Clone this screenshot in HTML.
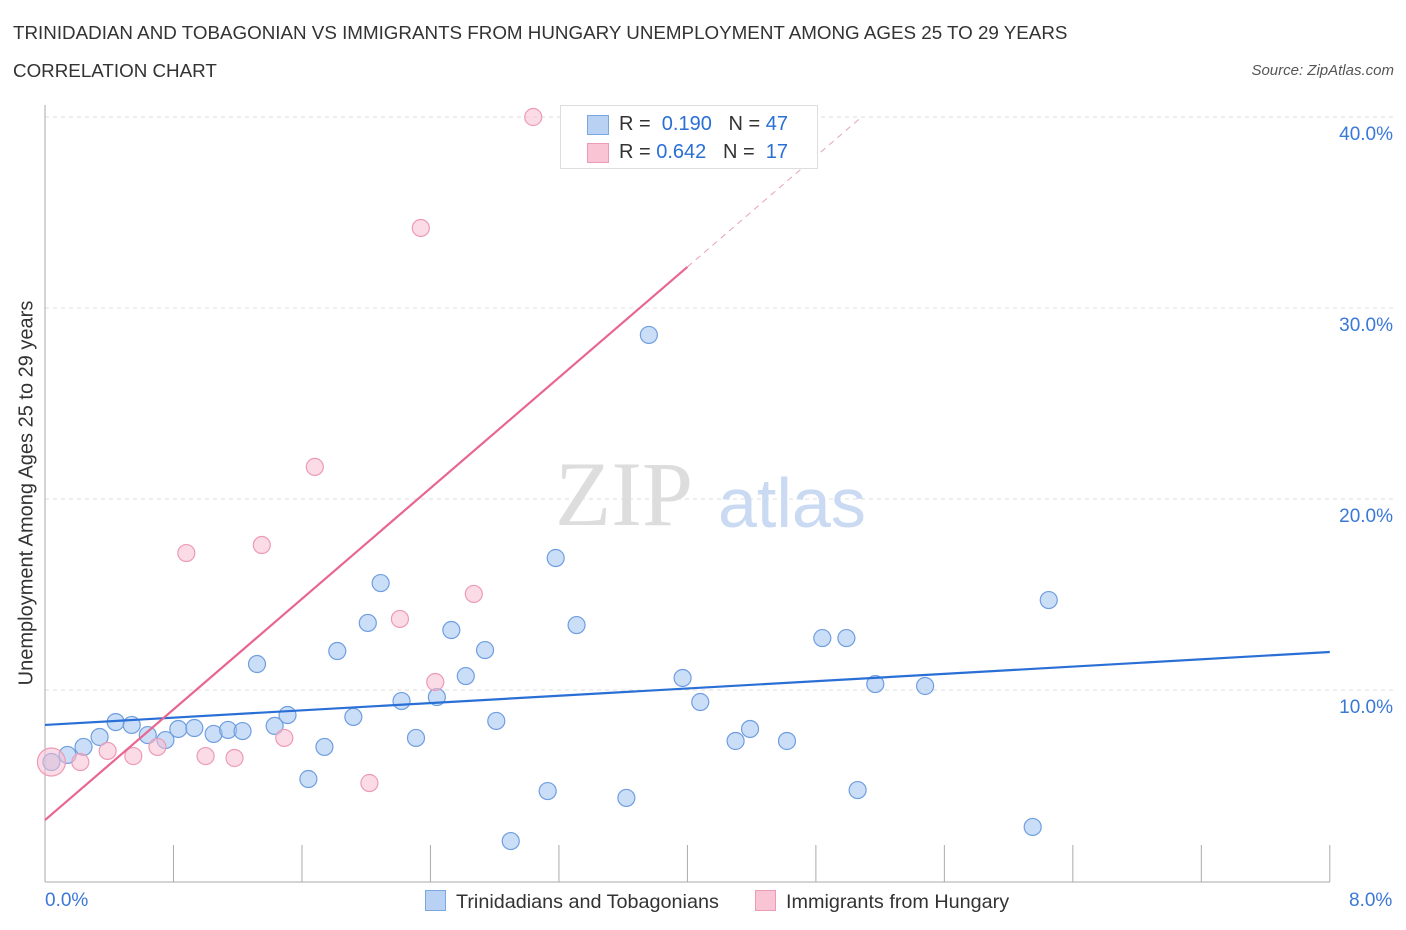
<!DOCTYPE html>
<html><head><meta charset="utf-8"><style>
body{margin:0;background:#fff;font-family:"Liberation Sans",sans-serif;}
.t{position:absolute;color:#333;}
</style></head><body>
<div style="position:relative;width:1406px;height:930px;overflow:hidden">
<div class="t" style="left:13px;top:22px;font-size:18.8px">TRINIDADIAN AND TOBAGONIAN VS IMMIGRANTS FROM HUNGARY UNEMPLOYMENT AMONG AGES 25 TO 29 YEARS</div>
<div class="t" style="left:13px;top:60px;font-size:18.8px">CORRELATION CHART</div>
<div class="t" style="right:12px;top:62px;font-size:15px;font-style:italic;color:#555">Source: ZipAtlas.com</div>
<svg id="c" width="1406" height="930" style="position:absolute;left:0;top:0"></svg>
</div>
<script>
const yTicks=[10,20,30,40];
const yTickLabels=["10.0%","20.0%","30.0%","40.0%"];
const blueX=[0.04,0.14,0.24,0.34,0.44,0.54,0.64,0.75,0.83,0.93,1.05,1.14,1.23,1.32,1.43,1.51,1.64,1.74,1.82,1.92,2.01,2.09,2.22,2.31,2.44,2.53,2.62,2.74,2.81,2.90,3.13,3.18,3.31,3.62,3.76,3.97,4.08,4.30,4.39,4.62,4.84,4.99,5.06,5.17,5.48,6.15,6.25];
const blueY=[6.23,6.60,7.02,7.54,8.32,8.17,7.64,7.38,7.96,8.01,7.70,7.91,7.85,11.36,8.12,8.69,5.34,7.02,12.04,8.59,13.51,15.60,9.42,7.49,9.63,13.14,10.73,12.09,8.38,2.09,4.71,16.91,13.40,4.35,28.59,10.63,9.37,7.33,7.96,7.33,12.72,12.72,4.76,10.31,10.21,2.83,14.71];
const pinkX=[0.04,0.22,0.39,0.55,0.70,0.88,1.00,1.18,1.35,1.49,1.68,2.02,2.21,2.34,2.43,2.67,3.04];
const pinkY=[6.23,6.23,6.81,6.54,7.02,17.17,6.54,6.44,17.59,7.49,21.68,5.13,13.72,34.19,10.42,15.03,40.0];
const blueLine=[8.17,11.99];
const pinkLine=[3.19,7.24];
const X=v=>45+v*160.6, Y=v=>881-v*19.1;
const s=document.getElementById('c');const NS='http://www.w3.org/2000/svg';
function mk(t,a,p){const e=document.createElementNS(NS,t);for(const k in a)e.setAttribute(k,a[k]);(p||s).appendChild(e);return e;}
yTicks.forEach((v,i)=>{const g=mk('line',{x1:45,x2:1395,y1:Y(v),y2:Y(v),stroke:'#ddd','stroke-dasharray':'4,4'});


const t=mk('text',{x:1393,y:Y(v)+23,'text-anchor':'end','font-size':19,fill:'#3a78d8','font-family':'Liberation Sans'});t.textContent=yTickLabels[i];

});
const ax=mk('line',{x1:45,x2:1330,y1:882,y2:882,stroke:'#aaa'});
const ay=mk('line',{x1:45,x2:45,y1:105,y2:882,stroke:'#aaa'});
for(let i=1;i<=10;i++){const tk=mk('line',{x1:X(i*0.8),x2:X(i*0.8),y1:845,y2:882,stroke:'#aaa'});}
const wm=mk('text',{x:555,y:525,'font-size':92,fill:'#ddd','font-family':'Liberation Serif'});wm.textContent='ZIP';
const wm2=mk('text',{x:718,y:527,'font-size':70,fill:'#c9daf2','font-family':'Liberation Sans'});wm2.textContent='atlas';
blueX.forEach((x,i)=>{const c=mk('circle',{cx:X(x),cy:Y(blueY[i]),r:8.5,fill:'rgba(160,195,240,0.55)',stroke:'#6f9ee0','stroke-width':1.2});

});
pinkX.forEach((x,i)=>{const c=mk('circle',{cx:X(x),cy:Y(pinkY[i]),r:i==0?14:8.5,fill:'rgba(248,190,210,0.55)',stroke:'#ec9bb6','stroke-width':1.2});

});
const bl=mk('line',{x1:X(0),y1:Y(blueLine[0]),x2:X(8),y2:Y(blueLine[1]),stroke:'#2a6fd6','stroke-width':2.2});
const pl=mk('line',{x1:X(0),y1:Y(pinkLine[0]),x2:X(4),y2:Y(pinkLine[0]+pinkLine[1]*4),stroke:'#e8668f','stroke-width':2.2});
const pd=mk('line',{x1:X(4),y1:Y(pinkLine[0]+pinkLine[1]*4),x2:X(5.09),y2:Y(pinkLine[0]+pinkLine[1]*5.09),stroke:'#e8a0b8','stroke-width':1,'stroke-dasharray':'6,5'});
</script>
<div style="position:absolute;left:560px;top:105px;width:256px;height:62px;border:1px solid #ddd;background:#fff;font-size:20px;color:#333">
<div style="position:absolute;left:26px;top:9px;width:20px;height:18px;background:#b9d2f4;border:1px solid #7aa6e2"></div>
<div style="position:absolute;left:58px;top:7px">R = <span style="color:#2a6fd6">&nbsp;0.190</span>&nbsp;&nbsp;&nbsp;N = <span style="color:#2a6fd6">47</span></div>
<div style="position:absolute;left:26px;top:37px;width:20px;height:18px;background:#f9c5d5;border:1px solid #ec9bb6"></div>
<div style="position:absolute;left:58px;top:35px">R = <span style="color:#2a6fd6">0.642</span>&nbsp;&nbsp;&nbsp;N = <span style="color:#2a6fd6">&nbsp;17</span></div>
</div>
<div class="t" style="left:27px;top:493px;font-size:20px;transform:translate(-50%,-50%) rotate(-90deg);white-space:nowrap">Unemployment Among Ages 25 to 29 years</div>
<div class="t" style="left:45px;top:890px;font-size:19px;color:#3a78d8">0.0%</div>
<div class="t" style="left:1349px;top:890px;font-size:19px;color:#3a78d8">8.0%</div>
<div style="position:absolute;left:425px;top:890px;font-size:19.8px;color:#333"><span style="display:inline-block;width:19px;height:19px;background:#b9d2f4;border:1px solid #7aa6e2;vertical-align:-3px;margin-right:10px"></span>Trinidadians and Tobagonians</div>
<div style="position:absolute;left:755px;top:890px;font-size:19.8px;color:#333"><span style="display:inline-block;width:19px;height:19px;background:#f9c5d5;border:1px solid #ec9bb6;vertical-align:-3px;margin-right:10px"></span>Immigrants from Hungary</div>
</body></html>
